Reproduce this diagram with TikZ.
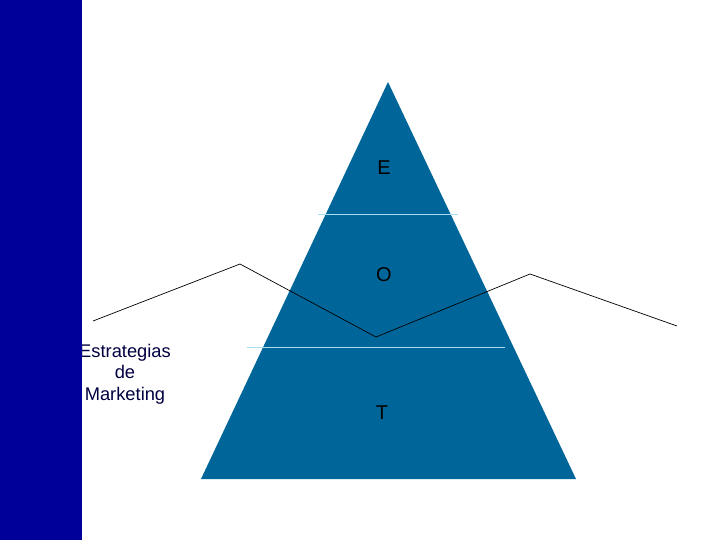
\documentclass[tikz,border=0pt]{standalone}
\usepackage{fontspec}
\setmainfont{Liberation Sans}
\usepackage{tikz}
\usepackage{xcolor}
\definecolor{bar-blue}{HTML}{000099}
\definecolor{pyramid-blue}{HTML}{006699}
\definecolor{band-line}{HTML}{A6DDF0}
\definecolor{label-navy}{HTML}{000040}
\tikzset{
    pyramid-label/.style = {text=black, font=\fontsize{20}{24}\selectfont, inner sep=0pt},
    side-label/.style = {text=label-navy, font=\fontsize{18.3}{21.5}\selectfont, align=center, inner sep=0pt},
    band-line/.style = {draw=band-line, line width=1pt},
    zigzag/.style = {draw=black, line width=0.7pt},
}

\begin{document}
\begin{tikzpicture}[x=1pt, y=-1pt]
\useasboundingbox (0,0) rectangle (720,540);
\fill[white] (0,0) rectangle (720,540);
% text under the bar
\node[side-label] (strategy) at (125,374) {Estrategias\\de\\Marketing};
\fill[bar-blue] (0,0) rectangle (82,540);
% pyramid
\coordinate (apex) at (388,82);
\coordinate (base-left) at (201,479);
\coordinate (base-right) at (576,479);
\fill[pyramid-blue] (apex) -- (base-left) -- (base-right) -- cycle;
\coordinate (band1-l) at (318,215);
\coordinate (band1-r) at (458,215);
\coordinate (band2-l) at (247,347);
\coordinate (band2-r) at (505,347);
\draw[band-line] (band1-l) -- (band1-r);
\draw[band-line] (band2-l) -- (band2-r);
\node[pyramid-label] (e) at (384,168) {E};
\node[pyramid-label] (o) at (384,275) {O};
\node[pyramid-label] (t) at (382,413) {T};
% zigzag line
\coordinate (z1) at (93,321);
\coordinate (z2) at (240,264);
\coordinate (z3) at (376,337);
\coordinate (z4) at (530,274);
\coordinate (z5) at (677,326);
\draw[zigzag] (z1) -- (z2) -- (z3) -- (z4) -- (z5);
\end{tikzpicture}
\end{document}
